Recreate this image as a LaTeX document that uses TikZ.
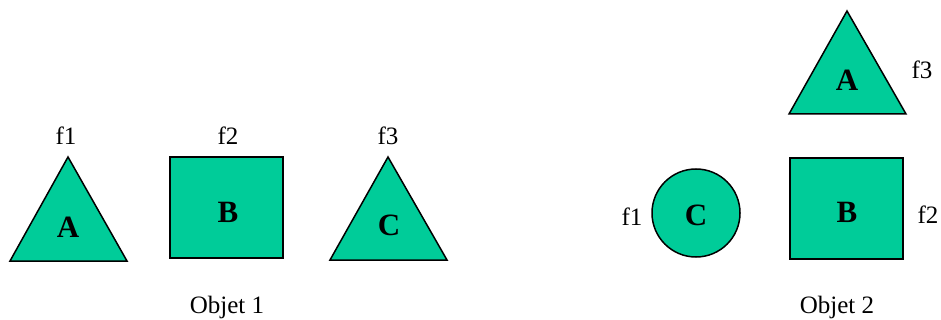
\documentclass[tikz,border=0pt]{standalone}
\usepackage{fontspec}
\setmainfont{Liberation Serif}
\usepackage{xcolor}
\usepackage{tikz}
\usetikzlibrary{positioning}

\definecolor{shapegreen}{HTML}{00CC99}
\tikzset{
  shapefill/.style={fill=shapegreen, draw=black, line width=1.5pt, line join=miter},
  letter/.style={font=\fontsize{31}{36}\selectfont\bfseries},
  tag/.style={font=\fontsize{25}{30}\selectfont},
}

\begin{document}
\begin{tikzpicture}[x=1pt, y=-1pt]
    \useasboundingbox (0,0) rectangle (941,320);

    % Objet 1
    \filldraw[shapefill] (10,261) -- (127,261) -- (68,157) -- cycle;
    \node[letter] (oneA) at (68,227) {A};
    \node[tag] (oneF1) at (66,136) {f1};

    \filldraw[shapefill] (170,157) rectangle (283,258);
    \node[letter] (oneB) at (228,212) {B};
    \node[tag] (oneF2) at (228,136) {f2};

    \filldraw[shapefill] (330,260) -- (447,260) -- (388,157) -- cycle;
    \node[letter] (oneC) at (389,225) {C};
    \node[tag] (oneF3) at (388,136) {f3};

    \node[tag] (objOne) at (227,307) {Objet 1};

    % Objet 2
    \filldraw[shapefill] (789,114) -- (906,114) -- (847,11) -- cycle;
    \node[letter] (twoA) at (847,80) {A};
    \node[tag] (twoF3) at (922,70) {f3};

    \filldraw[shapefill] (790,158) rectangle (903,259);
    \node[letter] (twoB) at (847,212) {B};
    \node[tag] (twoF2) at (928,215) {f2};

    \filldraw[shapefill] (696,213) circle (44);
    \node[letter] (twoC) at (696,215) {C};
    \node[tag] (twoF1) at (632,217) {f1};

    \node[tag] (objTwo) at (837,307) {Objet 2};
\end{tikzpicture}
\end{document}
